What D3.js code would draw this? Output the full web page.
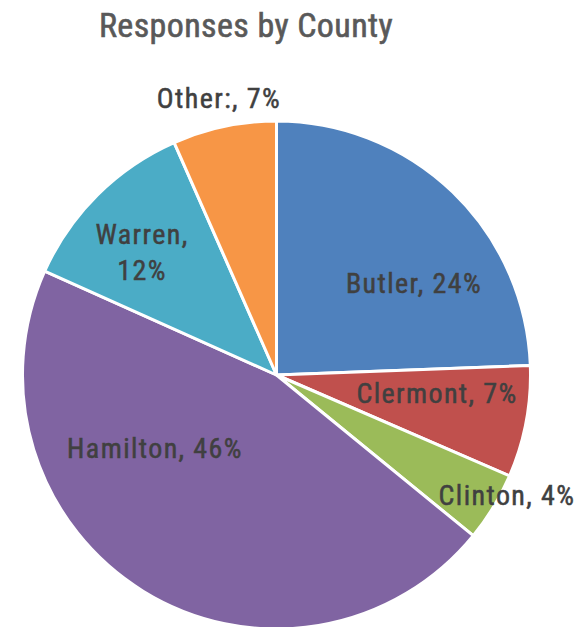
<!DOCTYPE html>
<html><head><meta charset="utf-8">
<script src="https://cdn.jsdelivr.net/npm/d3@7"></script>
<style>body{margin:0;background:#fff}</style>
</head><body><svg id="c" width="587" height="627"></svg>
<script>
const categories = ["Butler", "Clermont", "Clinton", "Hamilton", "Warren", "Other:"];
const values = [24.4, 7.1, 4.4, 45.8, 11.7, 6.6];
const labelPct = ["24%", "7%", "4%", "46%", "12%", "7%"];
const colors = ["#4f81bd", "#c0504d", "#9bbb59", "#8064a2", "#4bacc6", "#f79646"];
const title = "Responses by County";

const svg = d3.select("#c");
const cx = 276.5, cy = 375, r = 254;
const font = "'Liberation Sans Narrow','Arial Narrow','Roboto Condensed',sans-serif";

svg.append("text").attr("x", 246).attr("y", 37).attr("text-anchor", "middle")
  .attr("font-family", font).attr("font-size", 34).attr("fill", "#595959")
  .attr("stroke", "#595959").attr("stroke-width", 0.6).attr("letter-spacing", 0.4)
  .text(title);

const pie = d3.pie().sort(null).value(d => d)(values);
const arc = d3.arc().innerRadius(0).outerRadius(r);
const g = svg.append("g").attr("transform", `translate(${cx},${cy})`);
g.selectAll("path").data(pie).join("path")
  .attr("d", arc).attr("fill", (d, i) => colors[i])
  .attr("stroke", "#fff").attr("stroke-width", 3).attr("stroke-linejoin", "round");

// label placement (offsets relative to pie centre)
const labelPos = [
  [[137.5, -92]],
  [[160.5, 18]],
  [[230.5, 120]],
  [[-121.5, 73]],
  [[-134.5, -141], [-134.5, -105]],
  [[-57.5, -277]]
];
const labelLines = categories.map((c, i) => i === 4 ? [c + ",", labelPct[i]] : [c + ", " + labelPct[i]]);
categories.forEach((c, i) => {
  labelLines[i].forEach((line, j) => {
    const p = labelPos[i][j];
    g.append("text").attr("x", p[0]).attr("y", p[1]).attr("text-anchor", "middle")
      .attr("dominant-baseline", "central")
      .attr("font-family", font).attr("font-size", 28).attr("fill", "#404040")
      .attr("stroke", "#404040").attr("stroke-width", 0.5).attr("letter-spacing", 1.4)
      .text(line);
  });
});
</script></body></html>
